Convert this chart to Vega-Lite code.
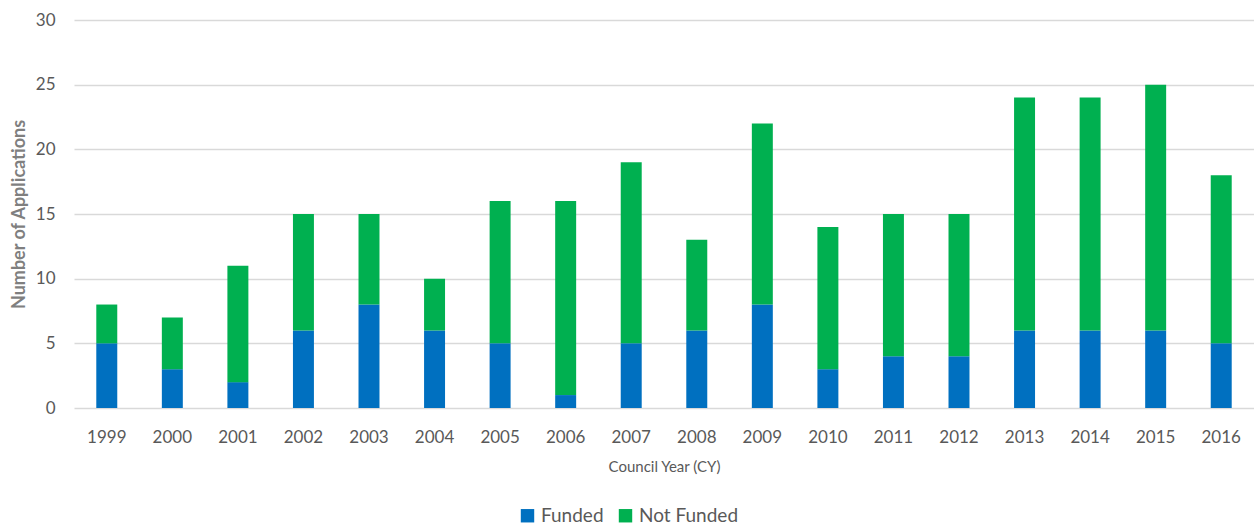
{
  "$schema": "https://vega.github.io/schema/vega-lite/v6.json",
  "width": 1180,
  "height": 388,
  "autosize": {"type": "none"},
  "padding": {"left": 74, "top": 20, "right": 0, "bottom": 117},
  "background": "white",
  "config": {
    "font": "Lato",
    "view": {"stroke": null}
  },
  "data": {
    "values": [
      {"year": "1999", "status": "Funded", "count": 5}, {"year": "1999", "status": "Not Funded", "count": 3},
      {"year": "2000", "status": "Funded", "count": 3}, {"year": "2000", "status": "Not Funded", "count": 4},
      {"year": "2001", "status": "Funded", "count": 2}, {"year": "2001", "status": "Not Funded", "count": 9},
      {"year": "2002", "status": "Funded", "count": 6}, {"year": "2002", "status": "Not Funded", "count": 9},
      {"year": "2003", "status": "Funded", "count": 8}, {"year": "2003", "status": "Not Funded", "count": 7},
      {"year": "2004", "status": "Funded", "count": 6}, {"year": "2004", "status": "Not Funded", "count": 4},
      {"year": "2005", "status": "Funded", "count": 5}, {"year": "2005", "status": "Not Funded", "count": 11},
      {"year": "2006", "status": "Funded", "count": 1}, {"year": "2006", "status": "Not Funded", "count": 15},
      {"year": "2007", "status": "Funded", "count": 5}, {"year": "2007", "status": "Not Funded", "count": 14},
      {"year": "2008", "status": "Funded", "count": 6}, {"year": "2008", "status": "Not Funded", "count": 7},
      {"year": "2009", "status": "Funded", "count": 8}, {"year": "2009", "status": "Not Funded", "count": 14},
      {"year": "2010", "status": "Funded", "count": 3}, {"year": "2010", "status": "Not Funded", "count": 11},
      {"year": "2011", "status": "Funded", "count": 4}, {"year": "2011", "status": "Not Funded", "count": 11},
      {"year": "2012", "status": "Funded", "count": 4}, {"year": "2012", "status": "Not Funded", "count": 11},
      {"year": "2013", "status": "Funded", "count": 6}, {"year": "2013", "status": "Not Funded", "count": 18},
      {"year": "2014", "status": "Funded", "count": 6}, {"year": "2014", "status": "Not Funded", "count": 18},
      {"year": "2015", "status": "Funded", "count": 6}, {"year": "2015", "status": "Not Funded", "count": 19},
      {"year": "2016", "status": "Funded", "count": 5}, {"year": "2016", "status": "Not Funded", "count": 13}
    ]
  },
  "mark": {"type": "bar"},
  "encoding": {
    "x": {
      "field": "year", "type": "nominal", "sort": null,
      "scale": {"paddingInner": 0.68, "paddingOuter": 0.34},
      "axis": {
        "title": "Council Year (CY)", "titleFontSize": 15, "titleFontWeight": "normal", "titleColor": "#595959", "titlePadding": 14,
        "labelAngle": 0, "labelFontSize": 17, "labelColor": "#595959", "labelPadding": 21,
        "domain": false, "ticks": false, "grid": false
      }
    },
    "y": {
      "field": "count", "type": "quantitative", "aggregate": "sum", "stack": "zero",
      "scale": {"domain": [0, 30], "nice": false},
      "axis": {
        "title": "Number of Applications", "titleFontSize": 18, "titleFontWeight": "bold", "titleColor": "#7f7f7f", "titlePadding": 7,
        "values": [0, 5, 10, 15, 20, 25, 30], "labelFontSize": 17, "labelColor": "#595959", "labelPadding": 19,
        "domain": false, "ticks": false, "grid": true, "gridColor": "#d9d9d9", "gridWidth": 1.3
      }
    },
    "color": {
      "field": "status", "type": "nominal",
      "scale": {"domain": ["Funded", "Not Funded"], "range": ["#0070C0", "#00B050"]},
      "legend": {
        "title": null, "orient": "none", "direction": "horizontal", "legendX": 444, "legendY": 486,
        "symbolType": "square", "symbolSize": 180, "symbolStrokeWidth": 0, "symbolOpacity": 1,
        "labelFontSize": 19, "labelColor": "#595959", "columnPadding": 12, "labelOffset": 4
      }
    },
    "order": {"field": "status", "sort": "ascending"}
  }
}
